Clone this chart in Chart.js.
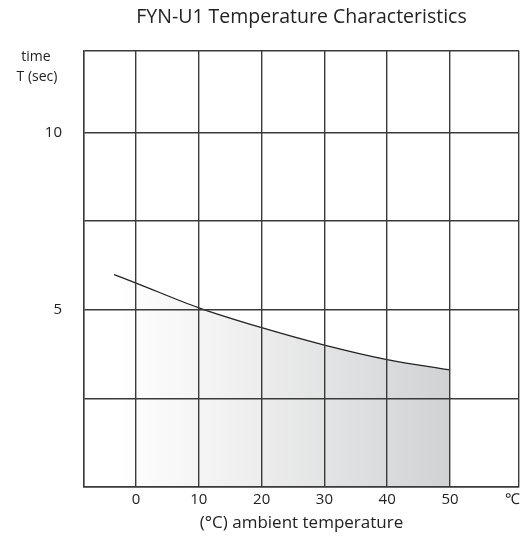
<!DOCTYPE html>
<html><head><meta charset="utf-8">
<script src="https://cdn.jsdelivr.net/npm/chart.js@4/dist/chart.umd.min.js"></script>
<style>html,body{margin:0;padding:0;background:#fff}#wrap{width:524px;height:537px}</style>
</head><body><div id="wrap"><canvas id="c" width="524" height="537"></canvas></div>
<script>
const chartTitle = 'FYN-U1 Temperature Characteristics';
const yTitleLines = ['time', 'T (sec)'];
const xTitle = '(\u00B0C) ambient temperature';
const temps = [-3.5, 0, 10, 20, 30, 40, 50];
const times = [5.99, 5.75, 5.05, 4.49, 4.0, 3.59, 3.30];
const xTickValues = [-8.3, 0, 10, 20, 30, 40, 50, 60, 61];
const xTickLabels = ['', '0', '10', '20', '30', '40', '50', '\u2103', ''];
const yTickValues = [0, 2.5, 5, 7.5, 10, 12.3];
const yTickLabels = ['', '', '5', '', '10', ''];
const FONT = "'Open Sans', 'Liberation Sans', sans-serif";

const textPlugin = {
  id: 'texts',
  afterDraw(chart) {
    const ctx = chart.ctx, a = chart.chartArea;
    ctx.save();
    ctx.fillStyle = '#222';
    ctx.textAlign = 'center';
    ctx.textBaseline = 'middle';
    ctx.font = '19.5px ' + FONT;
    ctx.fillText(chartTitle, (a.left + a.right) / 2, 17);
    ctx.font = '14px ' + FONT;
    ctx.fillText(yTitleLines[0], 36, 57);
    ctx.fillText(yTitleLines[1], 37, 77);
    ctx.restore();
  }
};

const gridColor = (ctx) => (ctx.tick && ctx.tick.value === 60) ? 'rgba(0,0,0,0)' : '#3a3a3a';

new Chart(document.getElementById('c'), {
  type: 'line',
  data: {
    datasets: [{
      data: temps.map((t, i) => ({x: t, y: times[i]})),
      borderColor: '#222',
      borderWidth: 1.3,
      pointRadius: 0,
      cubicInterpolationMode: 'monotone',
      fill: 'origin',
      backgroundColor: (c) => {
        const ch = c.chart, a = ch.chartArea;
        if (!a) return '#eee';
        const xs = ch.scales.x;
        const g = ch.ctx.createLinearGradient(xs.getPixelForValue(temps[0]), 0, xs.getPixelForValue(temps[temps.length-1]), 0);
        g.addColorStop(0, '#ffffff');
        g.addColorStop(0.3, '#f3f3f3');
        g.addColorStop(1, '#d1d2d4');
        return g;
      }
    }]
  },
  options: {
    responsive: false,
    animation: false,
    layout: {padding: {left: 0, top: 50.7, right: 5, bottom: 0}},
    plugins: {legend: {display: false}, tooltip: {enabled: false}, title: {display: false}},
    scales: {
      x: {
        type: 'linear', min: -8.3, max: 61,
        afterBuildTicks: (s) => { s.ticks = xTickValues.map(v => ({value: v})); },
        afterFit: (s) => { s.height = 50; },
        grid: {color: gridColor, lineWidth: 1.4, drawTicks: false, z: 1},
        border: {color: '#3a3a3a', width: 1.4, z: 1},
        ticks: {
          autoSkip: false, maxRotation: 0, padding: 4, color: '#222',
          font: {family: FONT, size: 15},
          callback: (v) => { const i = xTickValues.indexOf(v); return i >= 0 ? xTickLabels[i] : ''; }
        },
        title: {display: true, text: xTitle, color: '#222', font: {family: FONT, size: 17}, padding: {top: 5}}
      },
      y: {
        type: 'linear', min: 0, max: 12.3,
        afterBuildTicks: (s) => { s.ticks = yTickValues.map(v => ({value: v})); },
        afterFit: (s) => { s.width = 84; },
        grid: {color: '#3a3a3a', lineWidth: 1.4, drawTicks: false, z: 1},
        border: {color: '#3a3a3a', width: 1.4, z: 1},
        ticks: {
          autoSkip: false, padding: 22, color: '#222',
          font: {family: FONT, size: 15},
          callback: (v) => { const i = yTickValues.indexOf(v); return i >= 0 ? yTickLabels[i] : ''; }
        }
      }
    }
  },
  plugins: [textPlugin]
});
</script></body></html>
